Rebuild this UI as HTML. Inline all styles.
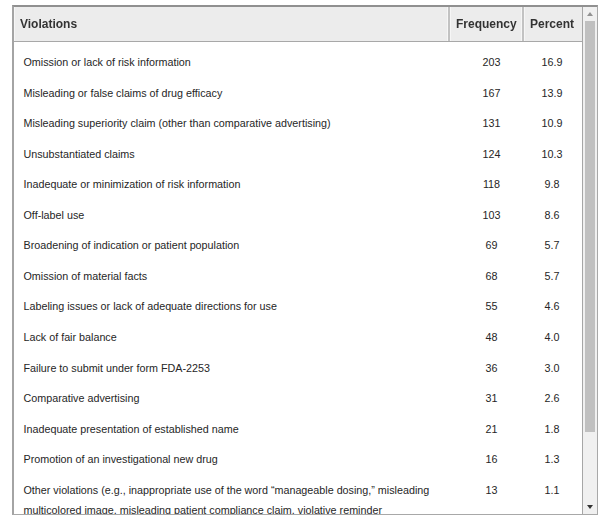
<!DOCTYPE html>
<html><head><meta charset="utf-8">
<style>
html,body{margin:0;padding:0;background:#fff;width:606px;height:523px;overflow:hidden;position:relative;}
body{font-family:"Liberation Sans",sans-serif;color:#333;}
.box{position:absolute;left:12px;top:5px;width:583px;height:507px;border-style:solid;border-color:#909090 #a8a8a8 #a8a8a8 #a4a4a4;border-width:2px 1px 1px 2px;background:#fff;overflow:hidden;}
.hdr{position:absolute;left:0;top:0;width:568px;height:34px;background:#ececec;border-bottom:1px solid #a8a8a8;}
.tl{position:absolute;left:-2px;top:-2px;width:586px;height:1px;background:#aaaaaa;z-index:5;}
.hl{position:absolute;left:0;top:0;width:1px;height:34px;background:#f6f6f6;}
.sep{position:absolute;top:0;height:34px;width:2px;background:#c2c2c2;border-left:1px solid #f6f6f6;border-right:1px solid #f6f6f6;}
.ht{position:absolute;top:0;line-height:34px;font-weight:bold;font-size:12px;color:#333;white-space:nowrap;transform:translateZ(0);}
.sb{position:absolute;left:568px;top:0;width:14px;height:507px;background:#f0f0f0;border-left:1px solid #a6a6a6;}
.thumb{position:absolute;left:2px;top:14px;width:10px;height:411px;background:#c0c0c0;}
.up{position:absolute;left:4px;top:5px;width:0;height:0;border-left:3px solid transparent;border-right:3px solid transparent;border-bottom:4px solid #929292;}
.dn{position:absolute;left:4px;top:498px;width:0;height:0;border-left:3px solid transparent;border-right:3px solid transparent;border-top:4px solid #333;}
.row{position:absolute;left:0;width:568px;height:20px;font-size:10.75px;line-height:20px;white-space:nowrap;color:#262626;}
.c1{position:absolute;left:9.5px;top:0;}
.c2{position:absolute;left:449px;width:57px;text-align:center;top:0;}
.c3{position:absolute;left:515px;width:46px;text-align:center;top:0;}
</style></head><body>
<div class="box">
  <div class="tl"></div>
  <div class="hdr">
    <div class="hl"></div>
    <div class="ht" style="left:6px">Violations</div>
    <div class="sep" style="left:433px"></div>
    <div class="ht" style="left:442px">Frequency</div>
    <div class="sep" style="left:507px"></div>
    <div class="ht" style="left:516px">Percent</div>
  </div>
  <div class="row" style="top:45px"><span class="c1">Omission or lack of risk information</span><span class="c2">203</span><span class="c3">16.9</span></div>
  <div class="row" style="top:76px"><span class="c1">Misleading or false claims of drug efficacy</span><span class="c2">167</span><span class="c3">13.9</span></div>
  <div class="row" style="top:106px"><span class="c1">Misleading superiority claim (other than comparative advertising)</span><span class="c2">131</span><span class="c3">10.9</span></div>
  <div class="row" style="top:137px"><span class="c1">Unsubstantiated claims</span><span class="c2">124</span><span class="c3">10.3</span></div>
  <div class="row" style="top:167px"><span class="c1">Inadequate or minimization of risk information</span><span class="c2">118</span><span class="c3">9.8</span></div>
  <div class="row" style="top:198px"><span class="c1">Off-label use</span><span class="c2">103</span><span class="c3">8.6</span></div>
  <div class="row" style="top:228px"><span class="c1">Broadening of indication or patient population</span><span class="c2">69</span><span class="c3">5.7</span></div>
  <div class="row" style="top:259px"><span class="c1">Omission of material facts</span><span class="c2">68</span><span class="c3">5.7</span></div>
  <div class="row" style="top:289px"><span class="c1">Labeling issues or lack of adequate directions for use</span><span class="c2">55</span><span class="c3">4.6</span></div>
  <div class="row" style="top:320px"><span class="c1">Lack of fair balance</span><span class="c2">48</span><span class="c3">4.0</span></div>
  <div class="row" style="top:351px"><span class="c1">Failure to submit under form FDA-2253</span><span class="c2">36</span><span class="c3">3.0</span></div>
  <div class="row" style="top:381px"><span class="c1">Comparative advertising</span><span class="c2">31</span><span class="c3">2.6</span></div>
  <div class="row" style="top:412px"><span class="c1">Inadequate presentation of established name</span><span class="c2">21</span><span class="c3">1.8</span></div>
  <div class="row" style="top:442px"><span class="c1">Promotion of an investigational new drug</span><span class="c2">16</span><span class="c3">1.3</span></div>
  <div class="row" style="top:473px"><span class="c1">Other violations (e.g., inappropriate use of the word “manageable dosing,” misleading<br>multicolored image, misleading patient compliance claim, violative reminder</span><span class="c2">13</span><span class="c3">1.1</span></div>
  <div class="sb"><div class="up"></div><div class="thumb"></div><div class="dn"></div></div>
</div>
</body></html>
